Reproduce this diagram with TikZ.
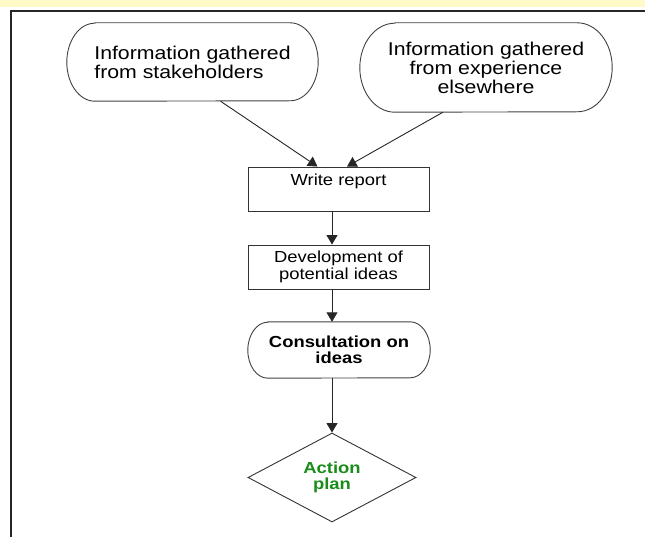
\documentclass[tikz,border=0pt]{standalone}
\usepackage{fontspec}
\setmainfont{Liberation Sans}[FakeStretch=1.15]
\usepackage{xcolor}
\usetikzlibrary{arrows.meta}
\usetikzlibrary{positioning}
\usetikzlibrary{shapes.geometric}
\definecolor{bandyellow}{RGB}{255,250,200}
\definecolor{plangreen}{RGB}{25,140,25}
\tikzset{box/.style = {draw=black!80, line width=0.9pt, minimum width=181pt, minimum height=44pt, inner sep=0, align=center, font=\fontsize{16}{16.5}\selectfont}}
\tikzset{term/.style = {inner sep=0, font=\fontsize{18.5}{19}\selectfont}}
\tikzset{decision/.style = {diamond, draw=black!80, line width=0.9pt, minimum width=168pt, minimum height=89pt, inner sep=0, align=center, text=plangreen, font=\fontsize{16}{16}\selectfont\bfseries}}
\tikzset{flow/.style = {draw=black!85, line width=0.9pt, -{Triangle[length=9.5pt,width=11pt]}}}
% outline with elliptic ends round a node: name, x radius, y radius
\newcommand{\stadium}[3]{\draw[black!75, line width=0.9pt] ([xshift=#2]#1.north west) -- ([xshift=-#2]#1.north east) arc[start angle=90, end angle=-90, x radius=#2, y radius=#3] -- ([xshift=#2]#1.south west) arc[start angle=270, end angle=90, x radius=#2, y radius=#3] -- cycle;}

\begin{document}
\begin{tikzpicture}[x=1pt, y=-1pt]
        \useasboundingbox (0,0) rectangle (645,537);
        \fill [bandyellow] (0,0) rectangle (645,7.5);
        \draw [black!85, line width=1.4pt] (645,11) -- (11,11) -- (11,537);
        \node[term, align=left, minimum width=251pt, minimum height=78pt] (info1) at (192.5,62) {Information gathered\\from stakeholders};
        \stadium{info1}{28pt}{39pt}
        \node[term, align=center, minimum width=252pt, minimum height=89pt] (info2) at (486,67.5) {Information gathered\\from experience\\elsewhere};
        \stadium{info2}{35pt}{44.5pt}
        \node[box, text depth=19pt] (report) at (338.5,189) {Write report};
        \node[box] (ideas) at (338.5,267) {Development of\\potential ideas};
        \node[term, align=center, minimum width=182pt, minimum height=56pt, font=\fontsize{16}{16.5}\selectfont\bfseries] (consult) at (339,350) {Consultation on\\ideas};
        \stadium{consult}{20pt}{28pt}
        \node[decision] (plan) at (332,477.5) {Action\\plan};
        \draw [flow] ([xshift=28pt]info1.south) -- ([xshift=-21pt]report.north);
        \draw [flow] ([xshift=-43pt]info2.south) -- ([xshift=8.5pt]report.north);
        \draw [flow] (report.south -| plan.north) -- (ideas.north -| plan.north);
        \draw [flow] (ideas.south -| plan.north) -- (consult.north -| plan.north);
        \draw [flow] (consult.south -| plan.north) -- (plan.north);
    \end{tikzpicture}
\end{document}
